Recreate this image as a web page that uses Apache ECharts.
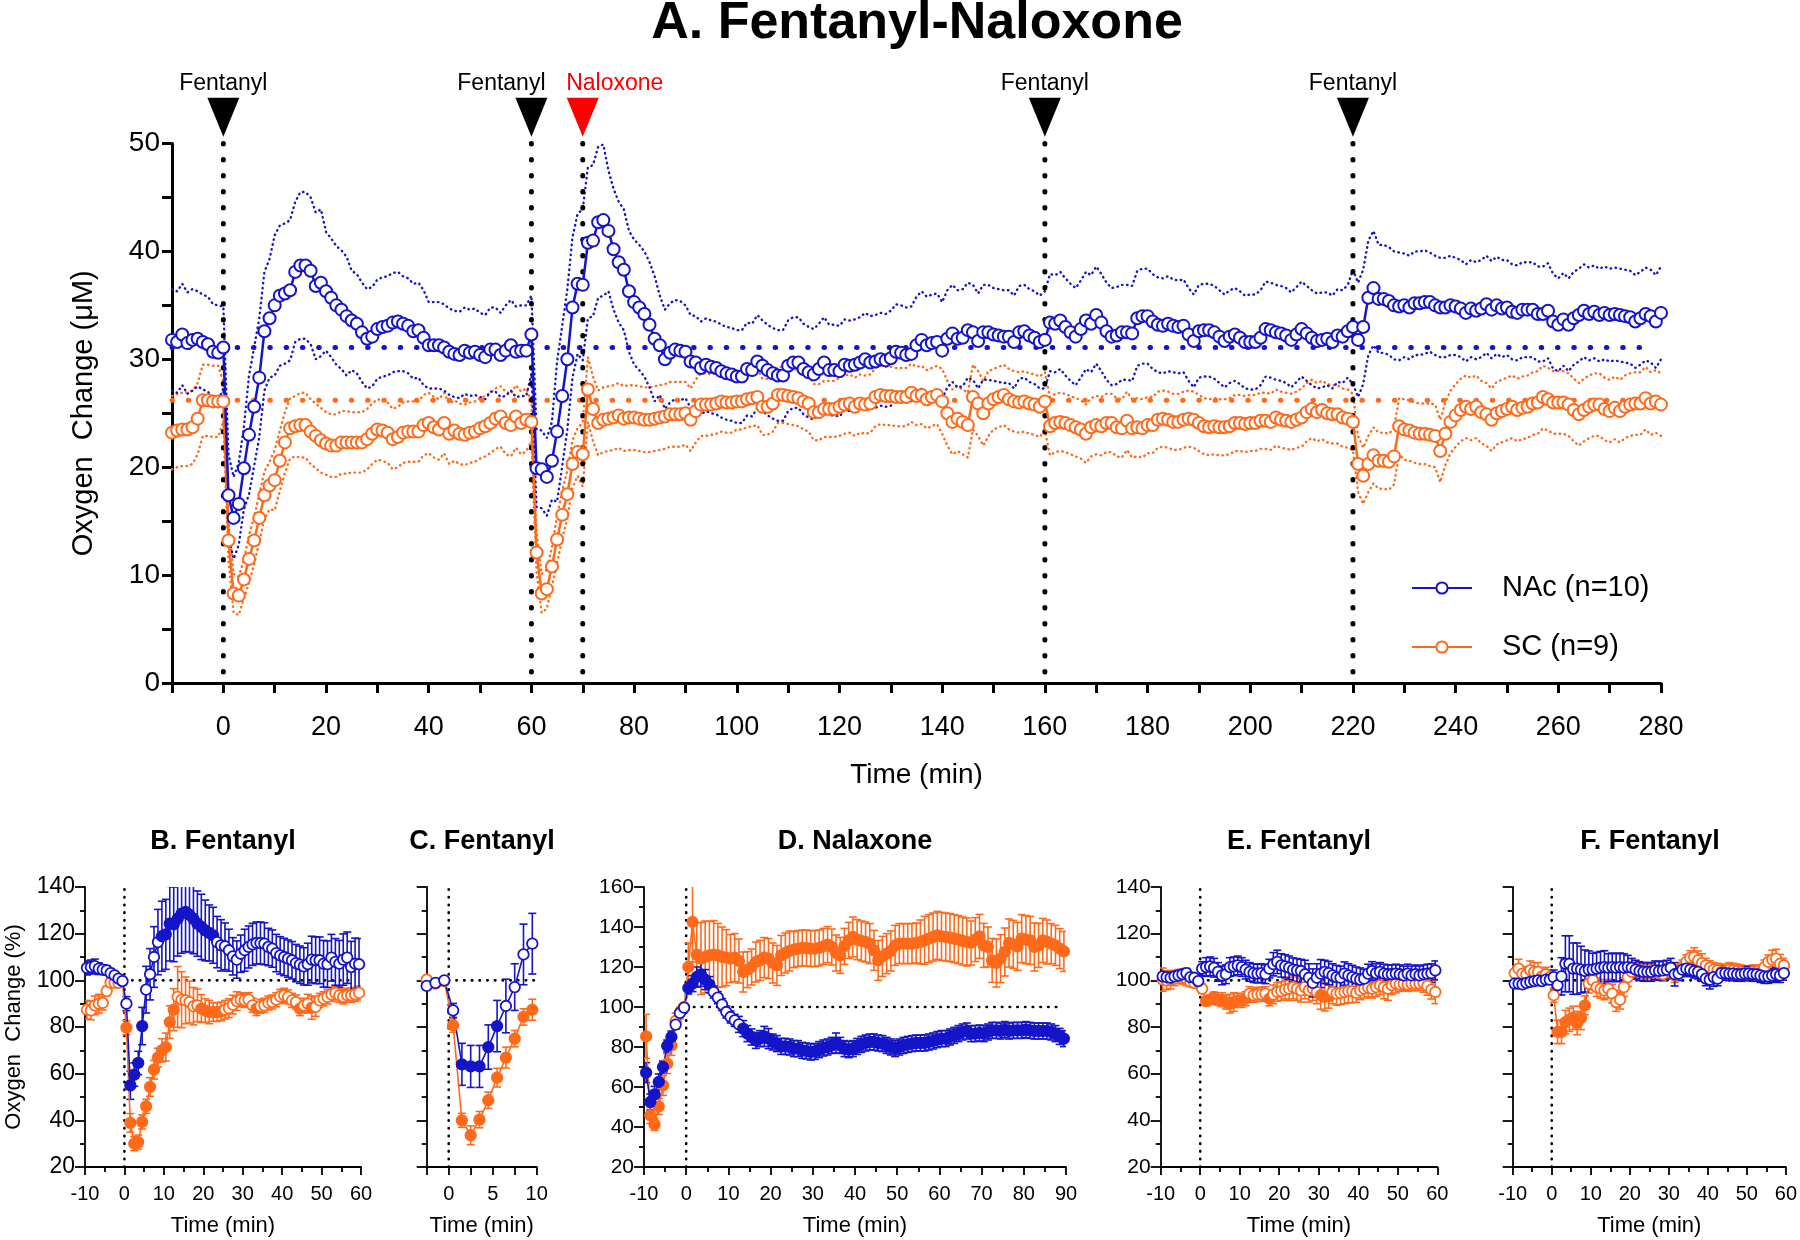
<!DOCTYPE html>
<html><head><meta charset="utf-8">
<script src="https://cdn.jsdelivr.net/npm/echarts@6/dist/echarts.min.js"></script>
<style>html,body{margin:0;padding:0;background:#fff}#c{width:1800px;height:1240px}</style>
</head><body><div id="c"></div>
<script>
const BLUE = '#1414C8', ORANGE = '#FF6A1A', FONT = 'Liberation Sans, Arial, sans-serif';

// ---------- Panel A: 1-min samples from -10 to 280 min ----------
const mainStartMin = -10;
const nacMean = [31.8,31.6,32.3,31.5,31.8,31.9,31.6,31.4,30.7,30.6,31.1,
17.4,15.3,16.6,19.9,23.0,25.6,28.3,32.6,33.8,35.0,
35.9,36.1,36.4,38.1,38.7,38.7,38.2,36.8,37.1,36.3,
35.7,35.0,34.6,34.0,33.6,33.3,32.5,31.9,32.1,32.8,
33.0,33.1,33.4,33.5,33.3,33.1,32.6,32.7,32.0,31.3,
31.3,31.3,31.1,30.7,30.5,30.4,30.8,30.6,30.7,30.4,
30.2,30.9,30.9,30.4,30.8,31.3,30.7,30.8,30.8,32.3,
19.9,19.8,19.1,20.6,23.3,26.6,30.0,34.8,37.0,36.9,
40.8,41.0,42.7,42.9,41.9,40.2,39.0,38.3,36.3,35.3,
34.8,34.2,33.2,31.9,31.3,30.0,30.6,30.9,30.8,30.7,
29.8,29.7,29.2,29.5,29.3,29.2,28.9,28.7,28.6,28.4,
28.4,29.1,29.0,29.8,29.4,29.0,28.7,28.5,28.5,29.4,
29.7,29.7,29.1,28.8,28.6,29.1,29.7,29.0,29.0,28.9,
29.5,29.4,29.5,29.7,30.0,29.7,29.8,30.0,29.9,30.1,
30.7,30.6,30.4,30.5,31.3,31.8,31.3,31.5,31.6,30.8,
31.9,32.4,31.9,32.0,32.7,32.5,31.7,32.5,32.5,32.3,
32.2,32.1,32.1,31.6,32.5,32.6,32.2,32.0,31.6,31.8,
33.4,33.3,33.6,33.0,32.5,32.1,32.8,33.6,33.3,34.1,
33.4,32.6,32.1,32.2,32.5,32.5,32.4,33.8,34.0,34.0,
33.5,33.2,33.1,33.3,33.1,33.0,33.1,32.3,31.7,32.6,
32.7,32.7,32.5,32.1,31.7,32.1,32.3,32.0,31.6,31.6,
31.6,32.0,32.8,32.7,32.5,32.4,32.2,31.8,32.3,32.8,
32.4,32.0,31.7,31.8,31.9,31.6,32.2,32.1,32.6,33.0,
31.8,33.0,35.7,36.6,35.6,35.6,35.4,35.0,34.9,35.0,
34.8,35.2,35.2,35.3,35.3,35.0,34.8,34.8,35.0,34.9,
34.7,34.3,34.7,34.5,34.7,35.1,34.6,35.0,34.7,34.8,
34.4,34.3,34.6,34.6,34.6,34.2,34.2,34.5,33.5,33.2,
33.7,33.2,33.8,34.1,34.5,34.2,34.4,34.1,34.3,34.1,
34.2,34.1,34.0,33.9,33.5,33.8,34.2,34.0,33.5,34.3];
const scMean = [23.2,23.4,23.5,23.5,23.7,24.5,26.2,26.2,26.1,26.1,26.1,
13.2,8.3,8.1,9.6,11.5,13.2,15.3,17.4,18.3,18.8,
20.6,22.3,23.6,23.8,23.9,23.9,23.3,22.9,22.5,22.2,
22.0,22.0,22.3,22.3,22.3,22.3,22.3,22.6,23.1,23.5,
23.4,23.2,22.6,22.8,23.2,23.3,23.3,23.3,23.9,24.1,
23.7,23.5,24.1,23.1,23.4,23.1,23.0,23.2,23.3,23.6,
23.8,24.1,24.5,24.7,24.1,23.9,24.7,24.1,24.4,24.2,
12.1,8.3,8.7,10.8,13.3,15.6,17.5,20.3,21.4,21.2,
27.2,25.4,24.1,24.4,24.5,24.6,24.8,24.5,24.6,24.6,
24.5,24.4,24.4,24.5,24.6,24.7,24.9,24.9,24.9,25.0,
24.4,25.2,25.8,25.8,25.8,25.9,26.1,26.0,26.0,26.1,
26.1,26.3,26.4,26.5,25.6,25.6,25.9,26.7,26.7,26.6,
26.5,26.4,26.1,25.9,25.1,25.1,25.4,25.4,25.4,25.6,
25.8,25.9,25.6,25.9,25.8,25.9,26.5,26.7,26.6,26.6,
26.5,26.5,26.5,26.9,26.6,26.7,26.3,26.5,26.7,26.1,
25.0,24.2,24.5,24.2,23.9,26.5,25.9,25.0,25.9,26.3,
26.5,26.7,26.3,26.1,26.0,26.1,25.9,25.8,25.6,26.1,
23.8,24.1,24.2,24.1,23.9,23.7,23.5,23.1,23.7,23.9,
23.8,24.1,24.1,23.7,23.6,24.3,23.6,23.7,23.6,23.9,
23.9,24.4,24.5,24.4,24.2,24.2,24.4,24.5,24.4,24.1,
23.8,23.7,23.8,23.7,23.7,23.8,24.1,24.1,24.0,24.1,
24.1,24.3,24.3,24.2,24.6,24.4,24.3,24.2,24.4,24.6,
25.1,25.4,25.1,25.3,25.0,24.9,24.9,24.6,24.5,24.2,
20.3,19.2,20.3,21.1,20.6,20.6,20.5,21.0,23.8,23.5,
23.4,23.2,23.1,23.1,23.0,22.9,21.5,23.1,24.2,24.8,
25.3,25.6,25.4,25.6,25.1,24.9,24.4,25.0,25.2,25.4,
25.6,25.3,25.5,25.6,25.9,26.0,26.5,26.3,26.0,26.0,
26.0,25.8,25.3,24.9,25.3,25.6,25.8,25.8,25.4,25.2,
25.5,25.2,25.6,25.8,25.9,25.9,26.4,25.9,26.1,25.8];
// SEM per 5-min block (block k covers minutes -10+5k ... -6+5k)
const nacSem5 = [4.7,4.4,3.8,5.5,6.5,6.8,5.5,4.6,4.6,4.4,4.0,4.0,3.9,4.2,
3.6,6.5,7.0,5.6,5.8,4.6,4.3,4.3,4.3,4.2,4.2,4.2,4.2,4.3,4.4,4.5,4.5,4.4,4.3,4.3,
4.5,4.5,4.5,4.4,4.4,4.3,4.3,4.3,4.4,4.4,4.4,4.3,5.3,5.0,4.8,4.6,4.5,4.5,4.4,4.4,4.3,4.3,4.3,4.3,4.3];
const scSem5 = [3.4,3.3,1.8,2.2,2.8,3.0,2.9,2.8,2.8,2.8,2.8,2.8,2.8,2.9,
1.8,2.2,3.0,3.0,3.0,3.0,2.9,2.8,2.6,2.6,2.6,2.6,2.7,2.7,2.7,2.7,3.0,3.0,2.8,2.8,
2.7,2.7,2.7,2.7,2.6,2.6,2.6,2.6,2.6,2.6,2.7,2.7,2.6,2.6,2.8,2.9,2.9,2.9,2.9,2.9,2.9,2.9,2.9,2.9,2.9];
const nacBaseline = 31.1, scBaseline = 26.2;
const baselineEnd = 278;
const eventTimes = [0, 60, 70, 160, 220];
const eventNames = ['Fentanyl', 'Fentanyl', 'Naloxone', 'Fentanyl', 'Fentanyl'];

// ---------- Panels B-F: % of baseline, half-minute sample times ----------
const bNac = [105.3,105.7,106.1,105,104.6,104.3,103.1,102.1,100.7,99.7,
90,55,59.6,64.6,80.4,96,102.6,110,116.4,118.9,
119.7,124.3,124,126.4,128.6,129.3,128.1,126.4,124.3,122.9,
121.4,120.3,119.3,116.4,115,114.6,112.9,110.3,108.9,111.4,
112.9,114.3,115.4,116,116,115.7,114.3,113.6,111.7,110.7,
110,109.3,108.6,107.4,106.7,106,106.9,108.9,108.6,108.6,
107.1,106.9,109.7,107.9,107.1,108.9,109.7,105.7,107.1,106.9];
const bNacErr = [3,3,3,2.5,2,2,2,1.5,1,0.5, 3,6,5,5,8,10,11,13,14,15,
15,16,16,16,17,17,16,15,14,14, 13,12,12,11,11,10,9,8,8,8,
9,9,9,9,9,9,8,8,8,8, 8,8,8,8,8,8,9,10,10,10, 10,10,10,10,10,11,11,11,11,11];
const bSc = [87.4,87.1,89.3,90,90.3,95.4,99,98.9,98.9,99.6,
79.7,38.9,30,30.7,39.3,46,54.3,61.7,66.9,70,
71.4,82.1,87.4,92.9,91.7,91.4,90.7,88.9,89.3,87.9,
87.1,86.4,86.4,86.4,86.7,87.4,88.1,89.6,91.1,91.7,
91.4,91.7,89.3,87.9,88.9,89.3,90.3,90.7,91.7,93.1,
93.6,92.9,91.4,90.7,87.9,89.3,90,88.3,88.6,91.4,
92.1,92.9,94,94.6,93.6,92.9,93.6,93.6,94,94.6];
const bScErr = [4,4,4,4,3,2,1,1,1,1, 3,4,3,3,3,3,4,4,4,5, 6,7,9,13,12,10,9,8,7,6,
5,5,4,4,4,4,4,4,4,3, 3,3,3,3,3,3,3,3,3,3, 3,3,3,3,3,3,4,5,4,3, 3,3,3,3,3,3,3,3,3,3];
const bNacSig = [[1.5,4.5],[9.5,22.5]];
const bScSig = [[0.5,12.5],[19.5,24.5],[33.5,33.5],[44.5,44.5],[47.5,47.5]];

const cNac = [97.6,98.9,100,87.1,64,63.1,63.1,71.4,80.4,89,97.1,111.1,115.7];
const cNacErr = [1,0.5,0.5,3,9,9,9,9.5,11,11.5,10,13,13];
const cSc = [100.3,98.6,99.7,80.7,40,33.6,40.3,48.6,58.3,66.9,75,84.3,87.4];
const cScErr = [0.5,0.5,0.5,3,3,4,3.5,3.5,4,4.5,3.5,3.5,4.5];
const cNacSig = [[1.5,5.5]];
const cScSig = [[0.5,9.5]];

const dNac = [67.2,52.5,56.3,62.5,70,80.5,85,91.2,97,99.7,
109.5,111.7,115,116.3,113.7,111.2,107.5,104.7,101.2,97.5,
95,93.3,91.3,89.2,86.7,85,83.3,84.2,85.3,84.2,
82.5,81.7,80.3,80.3,80,79.2,79.2,78.3,78,77.5,
77.8,78.7,79.5,80,80.8,82,80.8,79.2,78.7,79.2,
80.3,81.3,82,82.5,82.5,82,81.7,80.8,80,79.2,
80,80.8,81.3,81.7,82,82,82,82.5,83,83.7,
84.2,84.2,85,85.8,86.7,87.5,88,86.7,86.7,87,
86.7,87.5,88.3,88.3,88,88.7,88,88.3,88.3,88.3,
88.7,88.3,88,88,88,88,87.5,86.7,85.3,84.2];
const dNacErr = [5,4,4,4,3,3,3,2,2,1, 3,4,5,6,5,4,3,3,3,3,
3,3,4,4,4,4,4,4,5,5, 4,4,4,4,4,4,4,4,4,4, 4,4,4,4,4,5,4,4,4,4,
4,4,4,4,4,4,4,4,4,4, 4,4,4,4,4,4,4,4,4,4, 4,4,4,4,4,4,4,4,4,4,
4,4,4,4,4,4,4,4,4,4, 4,4,4,4,4,4,4,4,4,4];
const dSc = [85.3,45.8,41.3,50.3,60.8,71.7,80.8,93,97,100,
120,142.5,126.2,124.2,125,125.8,126.2,125.8,125,124.7,
124.2,124.7,123,117.5,118.7,120,122.5,123.3,124.7,124.2,
122,120.8,125.8,127,128,128.7,129.2,129.5,129.5,129.2,
129.2,129.5,130.3,131.2,130,127,125.8,130.3,133.3,135,
133.7,133,132.5,131.7,128.3,123.3,125.3,126.7,128,130.8,
131.7,131.7,131.7,131.7,132,132.5,133.3,134.2,135,135.8,
135.3,135,134.7,134.2,133.7,133,132.5,132,133.7,135.3,
130.8,130,123.3,122,124.2,127.5,132,131.3,130.3,134.2,
133.7,133.3,130,130.8,133.3,132.5,131.7,130.8,129.2,127.8];
const dScErr = [11,4,3,4,5,5,5,4,3,1, 12,20,16,18,18,17,17,16,15,14,
12,12,11,10,9,9,10,10,10,10, 10,10,10,10,10,9,9,9,9,9,
9,9,9,9,9,9,9,9,9,10, 10,10,10,10,10,10,10,10,10,10,
10,10,10,10,10,11,12,12,12,12, 12,12,12,12,12,12,12,11,11,11,
11,10,11,12,12,12,12,12,12,12, 12,12,12,11,11,11,10,10,10,10];
const dNacSig = [[-9.5,-3.5],[0.5,5.5],[13.5,89.5]];
const dScSig = [[-9.5,-3.5],[0.5,89.5]];

const eNac = [101.7,101.4,101.1,101.7,102.1,102.6,103.1,101.4,101.1,99.7,
105,105.7,106,105.4,103.6,102.1,102.6,105.7,106,106.4,
105.7,104.6,103.6,103.1,102.9,103.1,102.6,105,106.9,107.9,
106.4,106,105.4,104.6,104.3,104,102.6,101.1,98.9,101.1,
102.9,103.6,103.1,102.1,101.4,101.1,102.9,102.1,101.4,100.7,
100.3,100.7,102.9,104,103.1,103.6,102.9,102.6,102.6,102.9,
102.6,102.1,102.9,102.1,102.6,102.1,102.6,102.9,103.1,104.3];
const eNacErr = [2,2,2,2,2,2,2,1,1,1, 3,4,4,4,4,4,4,4,4,4, 4,4,4,4,4,4,4,4,5,5,
5,5,5,5,5,5,6,6,6,6, 6,5,5,5,5,5,5,5,5,5, 5,4,4,4,4,4,4,4,4,4, 4,4,4,4,4,4,4,4,4,4];
const eSc = [100.3,100,100.3,100.7,101.7,101.4,100.7,99.3,98.9,99.3,
96.4,91.1,91.7,92.9,91.4,91.7,90.7,90,90.7,91.4,
91.4,92.1,94.3,93.6,94,94,94.3,92.1,94,95,
95.4,96,96.4,97.1,96.4,95.7,97.1,95.7,96.4,95,
93.6,92.9,93.1,95,94.3,94.6,95,95.4,95.4,94.6,
95.7,96.4,96.9,96.4,97.1,97.9,97.1,96.4,97.9,98.6,
98.3,98.6,98.3,98.6,98.6,98.6,98.9,97.6,96,95];
const eScErr = [5,4,4,3,3,3,3,2,2,1, 2,2,2,2,2,3,3,4,4,3, 3,3,3,3,3,3,3,3,4,4,
4,4,5,5,5,5,5,5,5,5, 6,6,5,5,5,5,5,5,5,4, 4,4,4,4,4,4,5,5,4,4, 3,3,3,3,3,3,4,4,4,5];
const eNacSig = [];
const eScSig = [[1.5,11.5],[17.5,17.5],[30.5,32.5]];

const fNac = [98.6,98.6,98.3,98.9,99.3,99.7,100,99.7,100.3,100.3,
101.4,97.9,101.7,107.1,107.1,105,105,104.6,104,104.6,
104.6,105,105.4,105.7,105.4,105.7,105.4,105.7,105.4,105.7,
105.4,104.6,104,103.6,103.6,103.6,104.3,104,104.3,104.6,
105.4,102.6,102.9,104.6,105,104.6,104,103.6,102.6,100.7,
100.3,101.4,100.7,103.1,103.1,102.9,102.9,102.6,102.6,102.9,
102.9,102.6,102.6,102.1,101.7,101.7,102.1,102.6,102.1,103.1];
const fNacErr = [1.5,1.5,1.5,1.5,1.5,1.5,1.5,1.5,1.5,1.5, 3,4,8,12,12,11,11,10,9,8,
7,7,7,7,6,6,6,6,6,5, 4,4,4,4,4,4,4,4,4,4, 4,5,3,3,3,3,3,3,3,3,
4,4,3,3,3,3,3,3,3,3, 3,3,3,3,3,3,3,3,3,3];
const fSc = [103.1,105,102.9,102.6,104.3,103.6,103.6,101.7,102.6,101.4,
93.6,77.9,77.9,82.1,83.1,83.9,81.7,83.9,89.3,98.6,
100,97.1,96.4,95.7,96.4,94.3,90.7,91.7,97.1,101.4,
103.6,104.6,104.3,104,103.6,104.3,103.6,103.1,102.6,104.3,
103.6,102.1,103.6,105.7,107.9,109.7,110,108.6,107.4,106.4,
105.4,104.6,104.3,103.6,104,104.6,104.3,104,103.6,103.1,
103.1,103.6,103.6,102.9,105.7,107.9,108.9,109.3,107.1,106.4];
const fScErr = [3,4,3,3,4,4,4,3,3,3, 3,5,5,5,5,5,5,5,4,4, 4,4,4,4,4,4,4,4,4,4,
3,3,3,3,3,3,3,3,3,3, 3,3,3,3,3,3,4,4,4,3, 3,3,3,3,3,3,3,3,3,3, 3,3,3,3,3,3,4,4,4,3];
const fNacSig = [];
const fScSig = [[1.5,8.5]];

// ---------- build ----------
function halfGrid(a, b) { const r = []; for (let t = a; t <= b + 1e-9; t += 1) r.push(+t.toFixed(1)); return r; }
function inRanges(t, rs) { return rs.some(r => t >= r[0] - 1e-6 && t <= r[1] + 1e-6); }

const mainTimes = nacMean.map((_, i) => mainStartMin + i);
const pair = (ts, vs) => ts.map((t, i) => [t, vs[i]]);
const band = (mean, sem, s) => mean.map((m, i) => [mainStartMin + i, +(m + s * sem[Math.floor(i / 5)]).toFixed(2)]);

const axisTxt = { color: '#000', fontFamily: FONT };
const series = [];

// bands
[[scMean, scSem5, ORANGE, 'sc'], [nacMean, nacSem5, BLUE, 'nac']].forEach(([m, s, col, nm]) => {
  [1, -1].forEach(sign => series.push({
    name: nm + (sign > 0 ? 'Upper' : 'Lower'), type: 'line', xAxisIndex: 0, yAxisIndex: 0,
    data: band(m, s, sign), symbol: 'none', silent: true, z: 1,
    lineStyle: { color: col, width: 2.4, type: [0.5, 4.5], cap: 'round' }
  }));
});
// baselines
[[nacBaseline, BLUE], [scBaseline, ORANGE]].forEach(([v, col], k) => series.push({
  name: 'base' + k, type: 'line', xAxisIndex: 0, yAxisIndex: 0, data: [[mainStartMin, v], [baselineEnd, v]],
  symbol: 'none', silent: true, z: 1, lineStyle: { color: col, width: 5, type: [0.5, 15.8], cap: 'round' }
}));
// event lines
eventTimes.forEach((t, k) => series.push({
  name: 'ev' + k, type: 'line', xAxisIndex: 0, yAxisIndex: 0, data: [[t, 50], [t, 0]],
  symbol: 'none', silent: true, z: 2, lineStyle: { color: '#000', width: 5, type: [0.5, 15.5], cap: 'round' }
}));
// main means
[[scMean, ORANGE, 'SC (n=9)'], [nacMean, BLUE, 'NAc (n=10)']].forEach(([m, col, nm]) => series.push({
  name: nm, type: 'line', xAxisIndex: 0, yAxisIndex: 0, data: pair(mainTimes, m),
  symbol: 'circle', symbolSize: 12, showAllSymbol: true, z: 3,
  itemStyle: { color: '#fff', borderColor: col, borderWidth: 2 },
  lineStyle: { color: col, width: 2.5 }
}));
// event markers (overlay grid 6)
const labelShift = [0, -30, 32, 0, 0];
series.push({
  type: 'scatter', xAxisIndex: 6, yAxisIndex: 6, silent: true, z: 5,
  data: eventTimes.map((t, k) => {
    const col = eventNames[k] === 'Naloxone' ? '#FF0000' : '#000000';
    return {
      value: [t, 0.315], name: eventNames[k],
      itemStyle: { color: col, opacity: 1 },
      label: { color: col, offset: [labelShift[k], 0] }
    };
  }),
  symbol: 'triangle', symbolRotate: 180, symbolSize: [32, 39],
  itemStyle: { opacity: 1 },
  label: { show: true, position: 'top', distance: 3, formatter: p => p.name, fontSize: 23, fontFamily: FONT, opacity: 1 }
});

// bottom panels
const panels = [
  { left: 85, width: 276, xMin: -10, xMax: 60, xInt: 10, xMinor: true, yMax: 140, yLabels: true, yFont: 23, yName: true,
    t: halfGrid(-9.5, 59.5), nac: bNac, nacErr: bNacErr, sc: bSc, scErr: bScErr, nacSig: bNacSig, scSig: bScSig, refEnd: 58.5 },
  { left: 426.7, width: 110, xMin: -2.5, xMax: 10, xInt: 2.5, xMinor: false, yMax: 140, yLabels: false, yFont: 20,
    t: halfGrid(-2.5, 9.5), nac: cNac, nacErr: cNacErr, sc: cSc, scErr: cScErr, nacSig: cNacSig, scSig: cScSig, refEnd: 10 },
  { left: 644, width: 422, xMin: -10, xMax: 90, xInt: 10, xMinor: true, yMax: 160, yLabels: true, yFont: 21,
    t: halfGrid(-9.5, 89.5), nac: dNac, nacErr: dNacErr, sc: dSc, scErr: dScErr, nacSig: dNacSig, scSig: dScSig, refEnd: 88.5 },
  { left: 1160.7, width: 276.6, xMin: -10, xMax: 60, xInt: 10, xMinor: true, yMax: 140, yLabels: true, yFont: 21,
    t: halfGrid(-9.5, 59.5), nac: eNac, nacErr: eNacErr, sc: eSc, scErr: eScErr, nacSig: eNacSig, scSig: eScSig, refEnd: 58.5 },
  { left: 1512.7, width: 276.6, xMin: -10, xMax: 60, xInt: 10, xMinor: true, yMax: 140, yLabels: false, yFont: 20,
    t: halfGrid(-9.5, 59.5), nac: fNac, nacErr: fNacErr, sc: fSc, scErr: fScErr, nacSig: fNacSig, scSig: fScSig, refEnd: 58.5 }
];
const titles = [['B. Fentanyl', 223], ['C. Fentanyl', 482], ['D. Nalaxone', 855], ['E. Fentanyl', 1299], ['F. Fentanyl', 1650]];

const grids = [{ left: 172, top: 143.5, width: 1489, height: 539.5, containLabel: false }];
const xAxes = [{
  type: 'value', gridIndex: 0, min: -10, max: 280, interval: 10,
  axisLine: { show: true, onZero: false, lineStyle: { color: '#000', width: 3 } },
  axisTick: { show: true, length: 10, lineStyle: { color: '#000', width: 3 } },
  axisLabel: { ...axisTxt, fontSize: 27, margin: 31, formatter: v => (v % 20 === 0 ? String(v) : '') },
  splitLine: { show: false },
  name: 'Time (min)', nameLocation: 'middle', nameGap: 78, nameTextStyle: { ...axisTxt, fontSize: 28 }
}];
const yAxes = [{
  type: 'value', gridIndex: 0, min: 0, max: 50, interval: 10,
  axisLine: { show: true, onZero: false, lineStyle: { color: '#000', width: 3 } },
  axisTick: { show: true, length: 10, lineStyle: { color: '#000', width: 3 } },
  minorTick: { show: true, splitNumber: 2, length: 10, lineStyle: { color: '#000', width: 3 } },
  axisLabel: { ...axisTxt, fontSize: 28, margin: 12 },
  splitLine: { show: false }, minorSplitLine: { show: false },
  name: 'Oxygen  Change (μM)', nameLocation: 'middle', nameGap: 74, nameTextStyle: { ...axisTxt, fontSize: 29 }
}];

function errSeries(k, t, v, e, col) {
  return {
    type: 'custom', xAxisIndex: k, yAxisIndex: k, silent: true, clip: true, z: 2,
    data: t.map((x, i) => [x, v[i], e[i]]), encode: { x: 0, y: 1 },
    renderItem: (p, api) => {
      const x = api.value(0), y = api.value(1), er = api.value(2);
      const a = api.coord([x, y + er]), b = api.coord([x, y - er]), w = 4;
      const st = { stroke: col, lineWidth: 1.6 };
      return { type: 'group', children: [
        { type: 'line', shape: { x1: a[0], y1: a[1], x2: b[0], y2: b[1] }, style: st },
        { type: 'line', shape: { x1: a[0] - w, y1: a[1], x2: a[0] + w, y2: a[1] }, style: st },
        { type: 'line', shape: { x1: b[0] - w, y1: b[1], x2: b[0] + w, y2: b[1] }, style: st }
      ] };
    }
  };
}

panels.forEach((P, j) => {
  const k = j + 1;
  grids.push({ left: P.left, top: 887, width: P.width, height: 280, containLabel: false });
  xAxes.push({
    type: 'value', gridIndex: k, min: P.xMin, max: P.xMax, interval: P.xInt,
    axisLine: { show: true, onZero: false, lineStyle: { color: '#000', width: 1.8 } },
    axisTick: { show: true, length: 8, lineStyle: { color: '#000', width: 1.8 } },
    minorTick: { show: P.xMinor, splitNumber: 2, length: 5, lineStyle: { color: '#000', width: 1.8 } },
    axisLabel: { ...axisTxt, fontSize: 20, margin: 17, formatter: v => (P.xInt === 2.5 ? (v % 5 === 0 ? String(v) : '') : String(v)) },
    splitLine: { show: false }, minorSplitLine: { show: false },
    name: 'Time (min)', nameLocation: 'middle', nameGap: 48, nameTextStyle: { ...axisTxt, fontSize: 22 }
  });
  yAxes.push({
    type: 'value', gridIndex: k, min: 20, max: P.yMax, interval: 20,
    axisLine: { show: true, onZero: false, lineStyle: { color: '#000', width: 1.8 } },
    axisTick: { show: true, length: 10, lineStyle: { color: '#000', width: 1.8 } },
    minorTick: { show: true, splitNumber: 2, length: 5, lineStyle: { color: '#000', width: 1.8 } },
    axisLabel: { ...axisTxt, show: P.yLabels, fontSize: P.yFont, margin: 10 },
    splitLine: { show: false }, minorSplitLine: { show: false },
    name: P.yName ? 'Oxygen  Change (%)' : '', nameLocation: 'middle', nameGap: 60, nameTextStyle: { ...axisTxt, fontSize: 22 }
  });
  // reference lines
  series.push({ type: 'line', xAxisIndex: k, yAxisIndex: k, data: [[0, 20], [0, P.yMax]], symbol: 'none', silent: true, z: 1,
    lineStyle: { color: '#000', width: 2.6, type: [0.5, 7.2], cap: 'round' } });
  series.push({ type: 'line', xAxisIndex: k, yAxisIndex: k, data: [[0, 100], [P.refEnd, 100]], symbol: 'none', silent: true, z: 1,
    lineStyle: { color: '#000', width: 2.6, type: [0.5, 7.2], cap: 'round' } });
  [[P.sc, P.scErr, P.scSig, ORANGE, 'sc'], [P.nac, P.nacErr, P.nacSig, BLUE, 'nac']].forEach(([v, e, sig, col, nm]) => {
    series.push(errSeries(k, P.t, v, e, col));
    series.push({
      name: nm + 'Pct' + k, type: 'line', xAxisIndex: k, yAxisIndex: k, z: 3, silent: true,
      symbol: 'circle', symbolSize: 10.5, showAllSymbol: true,
      lineStyle: { color: col, width: 1.6 },
      itemStyle: { color: '#fff', borderColor: col, borderWidth: 1.8 },
      data: P.t.map((x, i) => ({ value: [x, v[i]], itemStyle: { color: inRanges(x, sig) ? col : '#fff', borderColor: col, borderWidth: 1.8 } }))
    });
  });
});

// overlay grid for event triangles
grids.push({ left: 172, top: 60, width: 1489, height: 83.5, containLabel: false });
xAxes.push({ type: 'value', gridIndex: 6, min: -10, max: 280, show: false });
yAxes.push({ type: 'value', gridIndex: 6, min: 0, max: 1, show: false });

const graphics = [{ type: 'text', x: 917, y: 24, style: { text: 'A. Fentanyl-Naloxone', font: 'bold 52px ' + FONT, fill: '#000', align: 'center', verticalAlign: 'middle', textAlign: 'center', textVerticalAlign: 'middle' } }];
titles.forEach(([txt, x]) => graphics.push({ type: 'text', x, y: 842, style: { text: txt, font: 'bold 27px ' + FONT, fill: '#000', align: 'center', verticalAlign: 'middle', textAlign: 'center', textVerticalAlign: 'middle' } }));

const chart = echarts.init(document.getElementById('c'), null, { renderer: 'canvas' });
chart.setOption({
  animation: false, backgroundColor: '#fff',
  textStyle: { fontFamily: FONT },
  grid: grids, xAxis: xAxes, yAxis: yAxes, series,
  legend: {
    data: ['NAc (n=10)', 'SC (n=9)'], orient: 'vertical', left: 1406, top: 568,
    itemWidth: 60, itemHeight: 14, itemGap: 29, selectedMode: false,
    textStyle: { fontSize: 29, color: '#000', fontFamily: FONT, padding: [0, 0, 0, 25], lineHeight: 30 }
  },
  graphic: graphics
});
</script></body></html>
